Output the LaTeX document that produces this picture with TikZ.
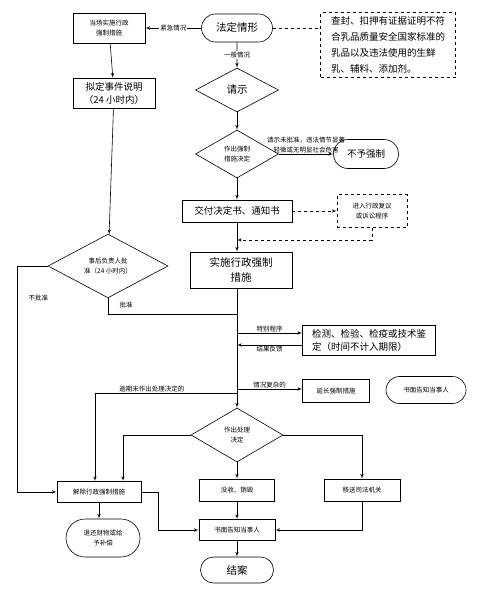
\documentclass[tikz,border=0pt]{standalone}
\usepackage{fontspec}
\setmainfont{Noto Sans CJK SC}
\usepackage{tikz}
\usetikzlibrary{shapes, arrows, positioning}

\begin{document}
\begin{tikzpicture}[x=1pt, y=-1pt, font=\fontsize{9.5}{13}\selectfont, line width=0.6pt,
	sm/.style={font=\fontsize{6.5}{10}\selectfont},
	big/.style={font=\fontsize{10.5}{15}\selectfont},
	box/.style={draw, rectangle, align=center, inner sep=1pt},
	term/.style={draw, rounded rectangle, align=center, inner sep=1pt},
	dia/.style={draw, diamond, align=center, inner sep=0pt},
	lbl/.style={sm, inner sep=1pt}]
		\useasboundingbox (0,0) rectangle (477,589);
		\node[term, big, minimum width=73pt, minimum height=28pt] (legal) at (237,28) {法定情形};
		\node[box, sm, minimum width=72pt, minimum height=30pt] (onsite) at (109,28) {当场实施行政\\强制措施};
		\node[box, dashed, align=left, font=\fontsize{9.5}{16}\selectfont, minimum width=135pt, minimum height=65pt] (scope) at (388,45) {查封、扣押有证据证明不符\\合乳品质量安全国家标准的\\乳品以及违法使用的生鲜\\乳、辅料、添加剂。};
		\node[box, minimum width=82pt, minimum height=30pt] (draft) at (114,93) {拟定事件说明\\（24 小时内）};
		\node[dia, big, minimum width=83pt, minimum height=44pt] (ask) at (237,90) {请示};
		\node[dia, sm, minimum width=83pt, minimum height=48pt] (decide) at (237,154) {作出强制\\措施决定};
		\node[term, minimum width=67pt, minimum height=29pt] (noforce) at (366,154) {不予强制};
		\node[box, minimum width=110pt, minimum height=22pt] (deliver) at (237,211) {交付决定书、通知书};
		\node[box, sm, dashed, minimum width=70pt, minimum height=33pt] (review) at (372,211) {进入行政复议\\或诉讼程序};
		\node[dia, sm, minimum width=120pt, minimum height=57pt] (approve) at (108,266) {事后负责人批\\准（24 小时内）};
		\node[box, big, minimum width=102pt, minimum height=36pt] (enforce) at (241,270) {实施行政强制\\措施};
		\node[box, align=left, minimum width=133pt, minimum height=30pt] (test) at (369,340) {检测、检验、检疫或技术鉴\\定（时间不计入期限）};
		\node[box, sm, minimum width=67pt, minimum height=23pt] (extend) at (336,391) {延长强制措施};
		\node[term, sm, minimum width=82pt, minimum height=27pt] (inform) at (426,390) {书面告知当事人};
		\node[dia, sm, minimum width=92pt, minimum height=54pt] (handle) at (237,435) {作出处理\\决定};
		\node[box, sm, minimum width=84pt, minimum height=21pt] (release) at (99,492) {解除行政强制措施};
		\node[box, sm, minimum width=75pt, minimum height=22pt] (confiscate) at (237,490) {没收、销毁};
		\node[box, sm, minimum width=76pt, minimum height=22pt] (transfer) at (362,490) {移送司法机关};
		\node[term, sm, minimum width=76pt, minimum height=38pt] (refund) at (103,538) {退还财物或给\\予补偿};
		\node[box, sm, minimum width=76pt, minimum height=21pt] (notify) at (237,530) {书面告知当事人};
		\node[term, big, minimum width=75pt, minimum height=26pt] (close) at (237,570) {结案};
		\coordinate (j1) at (237,240);
		\coordinate (j2) at (237,314);
		\coordinate (s1) at (237,333);
		\coordinate (s2) at (237,345);
		\coordinate (s3) at (237,389);
		\coordinate (s4) at (237,393);
		\coordinate (l1) at (17,266);
		\coordinate (r1) at (158,492);
		\path [draw, -latex'] (legal) -- node [lbl, fill=white] {紧急情况} (onsite);
		\path [draw, dashed] (legal.east) -- (legal.east -| scope.west);
		\path [draw, -latex'] (legal) -- node [lbl, fill=white] {一般情况} (ask);
		\path [draw, -latex'] (onsite) -- (draft);
		\path [draw, -latex'] (draft) -- (approve);
		\path [draw, -latex'] (ask) -- (decide);
		\path [draw, -latex'] (decide) -- node [lbl, above, align=center] {请示未批准，违法情节显著\\轻微或无明显社会危害} (noforce);
		\path [draw, -latex'] (decide) -- (deliver);
		\path [draw, -latex', dashed] (deliver) -- (review);
		\path [draw, -latex', dashed] (review.south) |- (j1);
		\path [draw, -latex'] (deliver) -- (enforce.north -| deliver);
		\path [draw] (approve.south) |- node [lbl, pos=0.57, above=5pt] {批准} (j2);
		\path [draw, -latex'] (enforce.south -| legal) -- (handle);
		\path [draw, -latex'] (s1) -- node [lbl, above] {特别程序} (s1 -| test.west);
		\path [draw, -latex'] (s2 -| test.west) -- node [lbl, below] {结果反馈} (s2);
		\path [draw, -latex'] (s3) -- node [lbl, above] {情况复杂的} (s3 -| extend.west);
		\path [draw, -latex'] (s4) -| node [lbl, pos=0.3, above] {逾期未作出处理决定的} ([xshift=-4pt]release.north);
		\path [draw, -latex'] (handle) -| ([xshift=24pt]release.north);
		\path [draw, -latex'] (handle) -- (confiscate);
		\path [draw, -latex'] (handle) -| (transfer);
		\path [draw] (approve) -- node [lbl, pos=0.3, below=28pt] {不批准} (l1);
		\path [draw, -latex'] (l1) |- (release);
		\path [draw, -latex'] (release) -- (release |- refund.north);
		\path [draw] (release) -- (r1);
		\path [draw, -latex'] (r1) |- (notify);
		\path [draw, -latex'] (confiscate) -- (notify);
		\path [draw, -latex'] (transfer) |- (notify);
		\path [draw, -latex'] (notify) -- (close);
	\end{tikzpicture}
\end{document}
